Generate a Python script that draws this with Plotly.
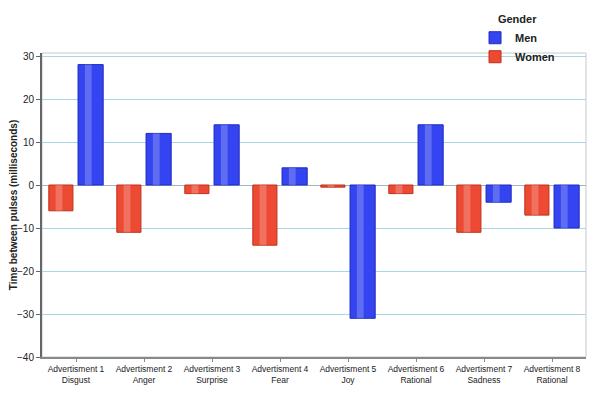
import plotly.graph_objects as go

categories = ["Advertisment 1<br>Disgust", "Advertisment 2<br>Anger", "Advertisment 3<br>Surprise",
              "Advertisment 4<br>Fear", "Advertisment 5<br>Joy", "Advertisment 6<br>Rational",
              "Advertisment 7<br>Sadness", "Advertisment 8<br>Rational"]
women = [-6, -11, -2, -14, -0.5, -2, -11, -7]
men = [28, 12, 14, 4, -31, 14, -4, -10]
y_ticks = [-40, -30, -20, -10, 0, 10, 20, 30]

fig = go.Figure()
# main bars
fig.add_trace(go.Bar(name="<b>Women</b>", x=categories, y=women, offset=-0.40, width=0.355,
                     marker=dict(color="#ec4a33", line=dict(color="#c0301c", width=1))))
fig.add_trace(go.Bar(name="<b>Men</b>", x=categories, y=men, offset=0.03, width=0.37,
                     marker=dict(color="#3344f0", line=dict(color="#1f2cc0", width=1))))
# cylinder highlight stripes
fig.add_trace(go.Bar(x=categories, y=women, offset=-0.30, width=0.10, showlegend=False,
                     hoverinfo="skip", marker=dict(color="rgba(255,255,255,0.22)", line=dict(width=0))))
fig.add_trace(go.Bar(x=categories, y=men, offset=0.13, width=0.10, showlegend=False,
                     hoverinfo="skip", marker=dict(color="rgba(255,255,255,0.22)", line=dict(width=0))))

fig.update_layout(
    width=594, height=388,
    margin=dict(l=34, r=16, t=45, b=39, autoexpand=False),
    paper_bgcolor="white", plot_bgcolor="white",
    barmode="overlay",
    font=dict(family="DejaVu Sans", size=10, color="#222"),
    legend=dict(title=dict(text="<b>Gender</b>", side="top center",
                           font=dict(size=11, family="Liberation Sans")),
                traceorder="reversed", x=0.796, xanchor="left", xref="paper",
                y=1.145, yanchor="top", yref="paper",
                font=dict(size=11, family="Liberation Sans"), itemwidth=30, tracegroupgap=0,
                bgcolor="rgba(0,0,0,0)"),
    showlegend=True,
)

fig.update_yaxes(range=[-40, 30.7], tickvals=y_ticks, showgrid=True, gridcolor="#a9d6e6",
                 zeroline=True, zerolinecolor="#9ab8c4", zerolinewidth=1,
                 showline=True, linecolor="#666", linewidth=2, mirror=False,
                 ticks="outside", ticklen=4, tickcolor="#666", automargin=False,
                 title=dict(text="<b>Time between pulses (milliseconds)</b>",
                            font=dict(size=10, family="Liberation Sans"), standoff=4),
                 tickfont=dict(size=10, family="Liberation Sans"))
fig.update_xaxes(showline=True, linecolor="#888", linewidth=2, ticks="outside", ticklen=3,
                 tickcolor="#888", tickfont=dict(size=8.5, family="Liberation Sans"),
                 showgrid=False, automargin=False)

# light box frame around plot area
fig.add_shape(type="rect", xref="paper", yref="paper", x0=0, x1=1, y0=0, y1=1,
              line=dict(color="#c0cccc", width=1), layer="below")

fig.write_html("out.html")
